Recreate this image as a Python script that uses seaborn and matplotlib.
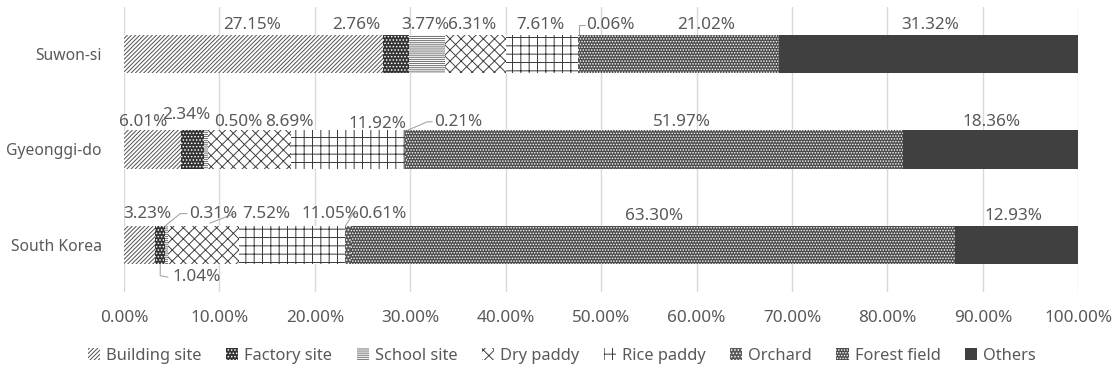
import pandas as pd
import matplotlib.pyplot as plt
import seaborn as sns
from matplotlib.patches import Patch
from matplotlib.ticker import PercentFormatter

# Land use share (%) by region
regions = ['Suwon-si', 'Gyeonggi-do', 'South Korea']
categories = ['Building site', 'Factory site', 'School site', 'Dry paddy',
              'Rice paddy', 'Orchard', 'Forest field', 'Others']
building_site = [27.15, 6.01, 3.23]
factory_site = [2.76, 2.34, 1.04]
school_site = [3.77, 0.50, 0.31]
dry_paddy = [6.31, 8.69, 7.52]
rice_paddy = [7.61, 11.92, 11.05]
orchard = [0.06, 0.21, 0.61]
forest_field = [21.02, 51.97, 63.30]
others = [31.32, 18.36, 12.93]
x_ticks = [0, 10, 20, 30, 40, 50, 60, 70, 80, 90, 100]

df = pd.DataFrame({'Region': regions,
                   'Building site': building_site, 'Factory site': factory_site,
                   'School site': school_site, 'Dry paddy': dry_paddy,
                   'Rice paddy': rice_paddy, 'Orchard': orchard,
                   'Forest field': forest_field, 'Others': others})

# face colour, hatch colour, hatch pattern for each land use
styles = {
    'Building site': ('white', '#505050', '/' * 8),
    'Factory site': ('#333333', 'white', '.' * 5),
    'School site': ('white', '#707070', '-' * 8),
    'Dry paddy': ('white', '#404040', 'xxx'),
    'Rice paddy': ('white', '#383838', '++'),
    'Orchard': ('#595959', 'white', '.' * 5),
    'Forest field': ('#4c4c4c', 'white', '.' * 6),
    'Others': ('#404040', '#404040', ''),
}

# where the data labels sit (x in %, y offset from bar centre)
label_x = [[13.4, 24.3, 31.6, 36.5, 43.6, 51.0, 61.0, 84.5],
           [2.0, 6.5, 12.0, 17.3, 26.6, 35.0, 58.5, 90.9],
           [2.4, 7.6, 9.4, 14.9, 21.6, 27.1, 55.5, 93.2]]
label_dy = [[-0.30] * 8,
            [-0.29, -0.36, -0.29, -0.29, -0.27, -0.29, -0.29, -0.29],
            [-0.33, 0.335, -0.33, -0.33, -0.33, -0.33, -0.30, -0.30]]
leaders = [(0, [(47.7, -0.2), (47.7, -0.30), (48.3, -0.30)]),
           (1, [(29.7, -0.2), (31.8, -0.29), (32.3, -0.29)]),
           (2, [(4.3, -0.2), (5.9, -0.33), (6.6, -0.33)]),
           (2, [(9.0, -0.23), (11.6, -0.33)]),
           (2, [(23.2, -0.2), (24.0, -0.33), (24.5, -0.33)]),
           (2, [(3.8, 0.2), (3.8, 0.32), (4.6, 0.335)])]

sns.set_style('white')
plt.rcParams['font.family'] = ['Noto Sans', 'DejaVu Sans']
plt.rcParams['hatch.linewidth'] = 0.7
text_color = '#595959'

fig = plt.figure(figsize=(11.17, 3.69), dpi=100)
ax = fig.add_axes([0.111, 0.2087, 0.8543, 0.7724])

# stacked bars: draw cumulative totals from the longest down
cum = df[categories].cumsum(axis=1)
for cat in reversed(categories):
    face, edge, hatch = styles[cat]
    sns.barplot(x=cum[cat], y=df['Region'], orient='h', color=face,
                saturation=1, width=0.4, edgecolor=edge, hatch=hatch,
                linewidth=0, ax=ax)

# data labels
for i, region in enumerate(regions):
    for j, cat in enumerate(categories):
        ax.text(label_x[i][j], i + label_dy[i][j], f'{df.loc[i, cat]:.2f}%',
                ha='center', va='center', fontsize=12.3, color=text_color)
for i, pts in leaders:
    ax.plot([p[0] for p in pts], [i + p[1] for p in pts],
            color='#a6a6a6', lw=0.8, clip_on=False)

ax.set_xlim(0, 100)
ax.set_ylim(2.49, -0.49)
ax.set_xticks(x_ticks)
ax.xaxis.set_major_formatter(PercentFormatter(decimals=2))
ax.xaxis.grid(True, color='#d9d9d9', lw=1)
ax.set_axisbelow(True)
ax.set_xlabel('')
ax.set_ylabel('')
ax.tick_params(axis='x', length=0, colors=text_color, labelsize=12.3, pad=13)
ax.tick_params(axis='y', length=0, colors=text_color, labelsize=11.3, pad=16)
sns.despine(ax=ax, left=True, bottom=True)

handles = [Patch(facecolor=styles[c][0], edgecolor=styles[c][1],
                 hatch=styles[c][2], linewidth=0, label=c) for c in categories]
fig.legend(handles=handles, loc='center', bbox_to_anchor=(0.503, 0.035),
           ncol=8, frameon=False, fontsize=11.8, labelcolor=text_color,
           handlelength=0.75, handleheight=0.75, handletextpad=0.35,
           columnspacing=1.5)

plt.savefig('out.png', dpi=100)
